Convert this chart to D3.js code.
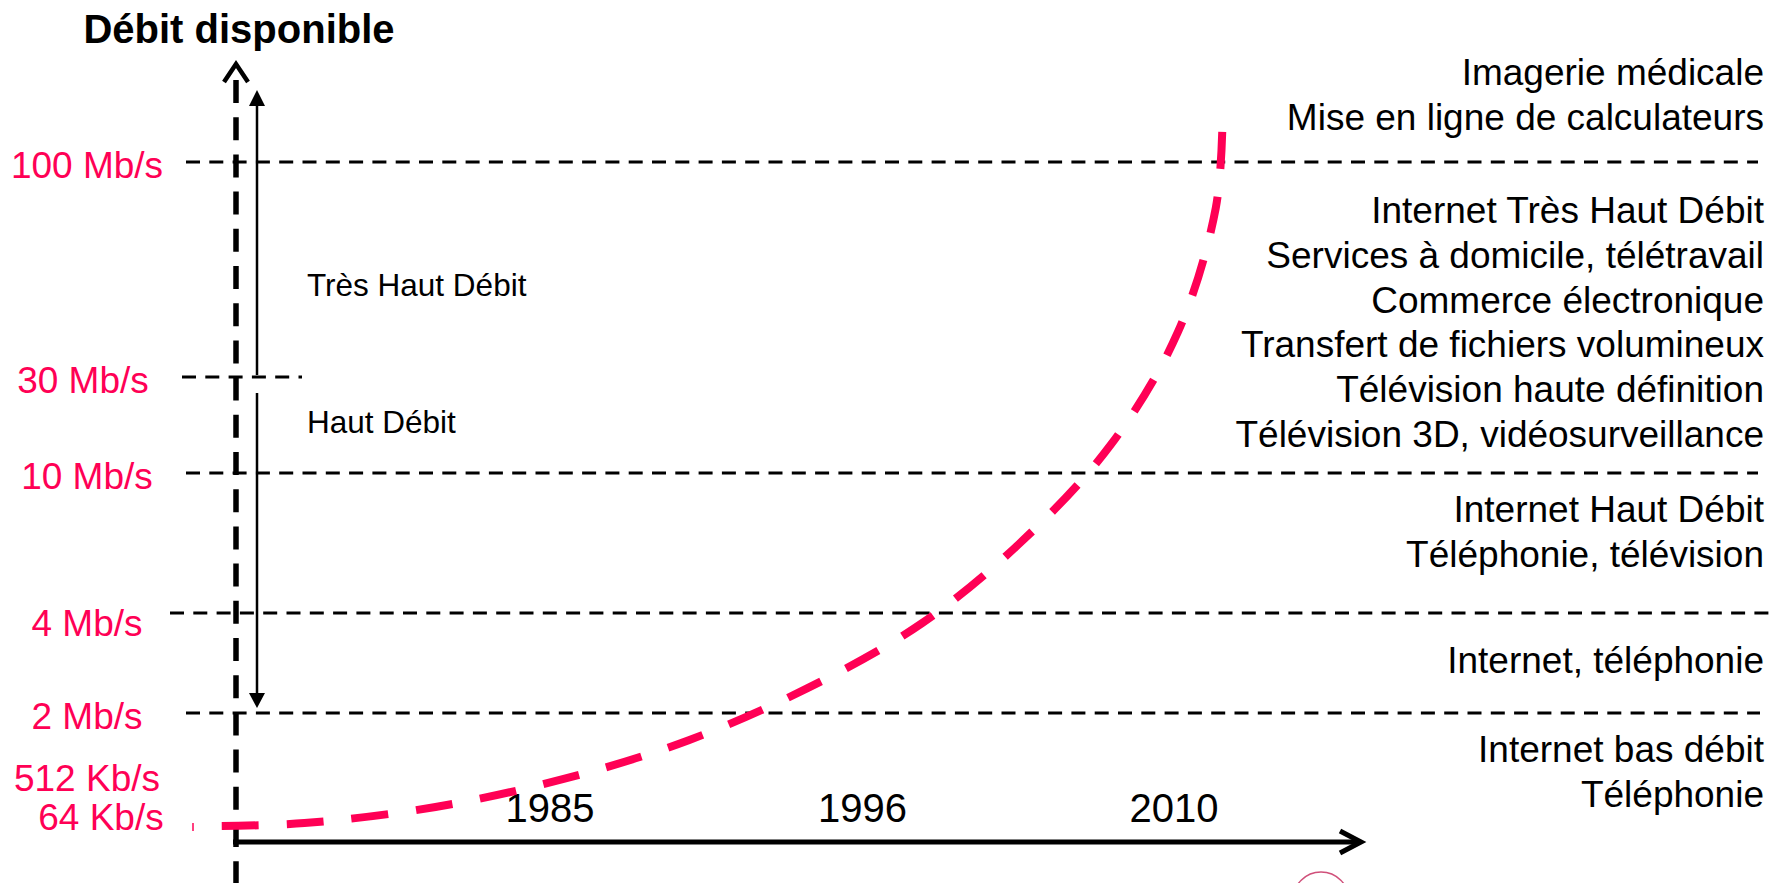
<!DOCTYPE html>
<html><head><meta charset="utf-8">
<script src="https://cdn.jsdelivr.net/npm/d3@7"></script>
<style>html,body{margin:0;padding:0;background:#fff;} svg{display:block;}</style>
</head><body>
<svg id="chart" width="1773" height="883"></svg>
<script>
// ---------------- data ----------------
const yearTicks = [1985, 1996, 2010];
const levelValues = [100, 30, 10, 4, 2];                 // Mb/s reference lines
const levelLabels = ["100 Mb/s", "30 Mb/s", "10 Mb/s", "4 Mb/s", "2 Mb/s"];
const lowValues = [0.512, 0.064];                        // Mb/s
const lowLabels = ["512 Kb/s", "64 Kb/s"];
const curveYears = [1973.5, 1976.4, 1981.0, 1985.5, 1989.9, 1994.1, 1998.7, 2003.2, 2007.2, 2010.2, 2011.9, 2012.2];
const curveRates = [0.064, 0.072, 0.139, 0.435, 1.1, 2.38, 3.73, 6.41, 13.9, 38.6, 77.3, 124];
const bandNames = ["Très Haut Débit", "Haut Débit"];
const bandLow = [30, 2];
const usageGroups = [
  ["Imagerie médicale", "Mise en ligne de calculateurs"],
  ["Internet Très Haut Débit", "Services à domicile, télétravail", "Commerce électronique",
   "Transfert de fichiers volumineux", "Télévision haute définition", "Télévision 3D, vidéosurveillance"],
  ["Internet Haut Débit", "Téléphonie, télévision"],
  ["Internet, téléphonie"],
  ["Internet bas débit", "Téléphonie"]
];
const usageAnchor = [100, 100, 10, 4, 2];               // level each group is placed from
const titleText = "Débit disponible";

// ---------------- layout ----------------
const W = 1773, H = 883;
const PINK = "#ff0055";
const FONT = "Arial, 'Liberation Sans', Helvetica, sans-serif";
const usageFirstDy = [-77, 61, 49, 60, 49];
const usageLineH = 44.8;

const svg = d3.select("#chart");

const x = d3.scaleLinear().domain([1974, 1985, 1996, 2010]).range([236, 549.5, 862, 1173.5]);
const y = d3.scaleLog()
  .domain([0.064, 0.512, 2, 4, 10, 30, 100])
  .range([826, 775, 713, 613, 473, 377, 162]);

const x0 = x(1974);

// Title
svg.append("text")
  .attr("x", 239).attr("y", 43)
  .attr("text-anchor", "middle")
  .attr("font-family", FONT).attr("font-weight", "bold").attr("font-size", 40)
  .attr("fill", "#000").text(titleText);

// Horizontal dashed reference lines
const lineExtent = {100: [186, 1758], 30: [182, 302], 10: [186, 1758], 4: [170, 1773], 2: [186, 1760]};
svg.append("g").selectAll("line").data(levelValues).join("line")
  .attr("x1", d => lineExtent[d][0]).attr("x2", d => lineExtent[d][1])
  .attr("y1", d => y(d)).attr("y2", d => y(d))
  .attr("stroke", "#000").attr("stroke-width", 3).attr("stroke-dasharray", "14 9.3");

// Level labels (pink)
const labelNudge = {"4 Mb/s": 7, "64 Kb/s": -12};
const labelX = {"64 Kb/s": 101, "30 Mb/s": 83};
const allLabels = levelLabels.map((t, i) => ({t, v: levelValues[i]}))
  .concat(lowLabels.map((t, i) => ({t, v: lowValues[i]})));
svg.append("g").selectAll("text").data(allLabels).join("text")
  .attr("x", d => labelX[d.t] || 87)
  .attr("y", d => y(d.v) + 16 + (labelNudge[d.t] || 0))
  .attr("text-anchor", "middle")
  .attr("font-family", FONT).attr("font-size", 37)
  .attr("fill", PINK).text(d => d.t);

// Vertical dashed axis with open arrowhead
svg.append("line")
  .attr("x1", x0).attr("x2", x0).attr("y1", 80).attr("y2", H)
  .attr("stroke", "#000").attr("stroke-width", 5.5).attr("stroke-dasharray", "23 14.2");
svg.append("path")
  .attr("d", d3.line()([[x0 - 12, 82], [x0, 64], [x0 + 12, 82]]))
  .attr("fill", "none").attr("stroke", "#000").attr("stroke-width", 4.5);

// Band arrows (thin solid)
const bx = 257;
svg.append("path")
  .attr("d", `M${bx},${y(bandLow[0]) - 2}V105`)
  .attr("stroke", "#000").attr("stroke-width", 2.5);
svg.append("path").attr("d", `M${bx},90L${bx - 8},106L${bx + 8},106Z`).attr("fill", "#000");
svg.append("path")
  .attr("d", `M${bx},${y(bandLow[0]) + 16}V${y(bandLow[1]) - 18}`)
  .attr("stroke", "#000").attr("stroke-width", 2.5);
svg.append("path")
  .attr("d", `M${bx},${y(bandLow[1]) - 5}L${bx - 8},${y(bandLow[1]) - 20}L${bx + 8},${y(bandLow[1]) - 20}Z`)
  .attr("fill", "#000");

// Band labels
const bandY = [y(100) + (y(30) - y(100)) / 2 + 26, y(30) + (y(10) - y(30)) / 2 + 8];
svg.append("g").selectAll("text").data(bandNames).join("text")
  .attr("x", 307).attr("y", (d, i) => bandY[i])
  .attr("font-family", FONT).attr("font-size", 31.5).attr("fill", "#000").text(d => d);

// Horizontal time axis
const axisY = 842;
const xAxis = d3.axisTop(x).tickValues(yearTicks).tickFormat(d3.format("d")).tickSize(0).tickPadding(20);
const gx = svg.append("g").attr("transform", `translate(0,${axisY})`).call(xAxis);
gx.select(".domain").remove();
gx.selectAll("text").attr("font-family", FONT).attr("font-size", 40).attr("fill", "#000");
svg.append("line")
  .attr("x1", x0 - 3).attr("x2", 1360).attr("y1", axisY).attr("y2", axisY)
  .attr("stroke", "#000").attr("stroke-width", 5);
svg.append("path")
  .attr("d", d3.line()([[1340, axisY - 11], [1361, axisY], [1340, axisY + 11]]))
  .attr("fill", "none").attr("stroke", "#000").attr("stroke-width", 5);

// Growth curve
const curvePts = curveYears.map((yr, i) => [x(yr), y(curveRates[i])]);
svg.append("path")
  .attr("d", d3.line().curve(d3.curveCatmullRom.alpha(0.5))(curvePts))
  .attr("fill", "none").attr("stroke", PINK).attr("stroke-width", 8)
  .attr("stroke-dasharray", "37 28").attr("stroke-linecap", "butt");

// small pink mark at start
svg.append("line").attr("x1", 193).attr("x2", 193).attr("y1", 823).attr("y2", 831)
  .attr("stroke", PINK).attr("stroke-width", 1.5);

// Usage texts (right)
usageGroups.forEach((g, gi) => {
  svg.append("g").selectAll("text").data(g).join("text")
    .attr("x", 1764)
    .attr("y", (d, i) => y(usageAnchor[gi]) + usageFirstDy[gi] + i * usageLineH)
    .attr("text-anchor", "end")
    .attr("font-family", FONT).attr("font-size", 37).attr("fill", "#000").text(d => d);
});

// partial circle at bottom
svg.append("circle").attr("cx", 1321).attr("cy", 900).attr("r", 28)
  .attr("fill", "none").attr("stroke", "#d0507a").attr("stroke-width", 1.5);
</script>
</body></html>
